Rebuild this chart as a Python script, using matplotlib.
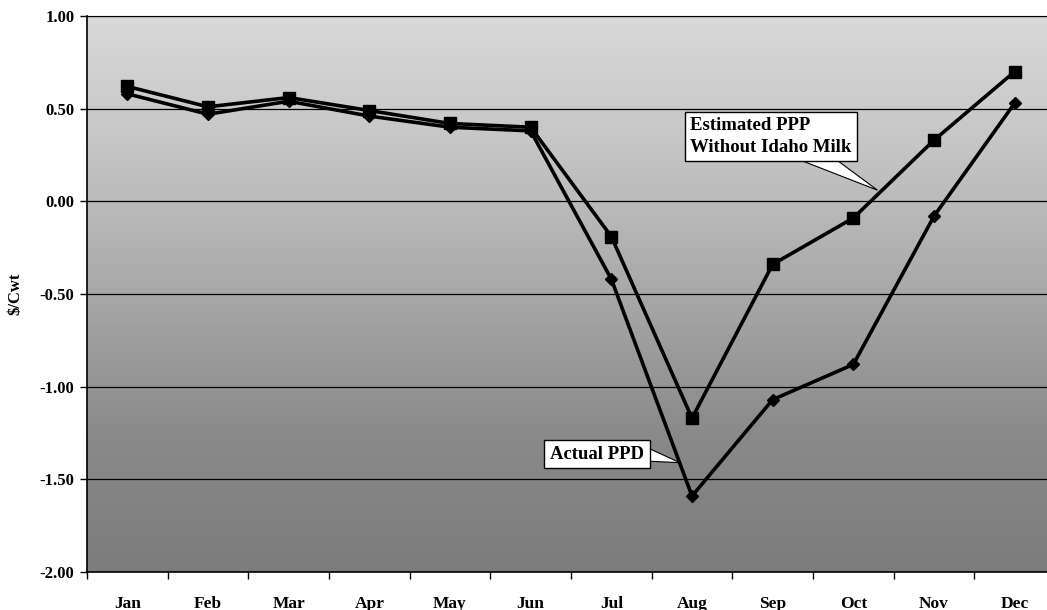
import numpy as np
import matplotlib
matplotlib.use('Agg')
import matplotlib.pyplot as plt
from matplotlib.colors import LinearSegmentedColormap
from matplotlib.patches import Polygon

plt.rcParams['font.family'] = ['Liberation Serif', 'DejaVu Serif']
plt.rcParams['font.weight'] = 'bold'

# Data ($/Cwt)
months = ['Jan', 'Feb', 'Mar', 'Apr', 'May', 'Jun',
          'Jul', 'Aug', 'Sep', 'Oct', 'Nov', 'Dec']
estimated_ppp = [0.62, 0.51, 0.56, 0.49, 0.42, 0.40,
                 -0.19, -1.17, -0.34, -0.09, 0.33, 0.70]
actual_ppd = [0.58, 0.47, 0.54, 0.46, 0.40, 0.38,
              -0.42, -1.59, -1.07, -0.88, -0.08, 0.53]
y_ticks = [-2.0, -1.5, -1.0, -0.5, 0.0, 0.5, 1.0]

fig = plt.figure(figsize=(10.47, 6.10), dpi=100)
ax = fig.add_axes([87 / 1047, 38 / 610, 968 / 1047, 556 / 610])

x = np.arange(len(months))
n = len(months)

# shaded background, light at top and darker toward the bottom
shade = LinearSegmentedColormap.from_list('shade', ['#d9d9d9', '#c4c4c4', '#a8a8a8', '#8a8a8a', '#7c7c7c'])
grad = np.linspace(0, 1, 256).reshape(-1, 1)
ax.imshow(grad, aspect='auto', cmap=shade, extent=(-0.5, n - 0.5, -2.0, 1.0),
          origin='upper', zorder=0, interpolation='bilinear')
ax.set_xlim(-0.5, n - 0.5)
ax.set_ylim(-2.0, 1.0)

for yv in y_ticks:
    ax.axhline(yv, color='black', lw=0.9, zorder=1)

ax.plot(x, estimated_ppp, color='black', lw=2.6, marker='s', ms=8, zorder=3)
ax.plot(x, actual_ppd, color='black', lw=2.6, marker='D', ms=6, zorder=3)

ax.set_yticks(y_ticks)
ax.set_yticklabels(['%.2f' % v for v in y_ticks], fontsize=12, fontweight='bold')
ax.set_xticks(np.arange(-0.5, n, 1.0))
ax.set_xticklabels([])
ax.set_xticks(x, minor=True)
ax.set_xticklabels(months, minor=True, fontsize=12.5, fontweight='bold')
ax.tick_params(axis='x', which='minor', length=0, pad=17)
ax.tick_params(axis='x', which='major', length=5, direction='out', width=1)
ax.tick_params(axis='y', length=5, direction='out', width=1, pad=4)
ax.set_ylabel('$/Cwt', fontsize=12, fontweight='bold', labelpad=12)

for side in ['left', 'bottom']:
    ax.spines[side].set_linewidth(1.2)
ax.spines['top'].set_linewidth(0.8)
ax.spines['right'].set_visible(False)

box = dict(boxstyle='square,pad=0.3', fc='white', ec='black', lw=1)

# callout for the estimated series
ax.add_patch(Polygon([(8.18, 0.25), (8.71, 0.25), (9.30, 0.06)], closed=True,
                     fc='white', ec='black', lw=0.8, zorder=4))
ax.text(6.98, 0.35, 'Estimated PPP\nWithout Idaho Milk', fontsize=13.5, fontweight='bold',
        ha='left', va='center', linespacing=1.35, bbox=box, zorder=5)

# callout for the actual series
ax.add_patch(Polygon([(6.35, -1.31), (6.35, -1.40), (6.85, -1.41)], closed=True,
                     fc='white', ec='black', lw=0.8, zorder=4))
ax.text(5.24, -1.365, 'Actual PPD', fontsize=13.5, fontweight='bold',
        ha='left', va='center', bbox=box, zorder=5)

fig.savefig('out.png', dpi=100)
